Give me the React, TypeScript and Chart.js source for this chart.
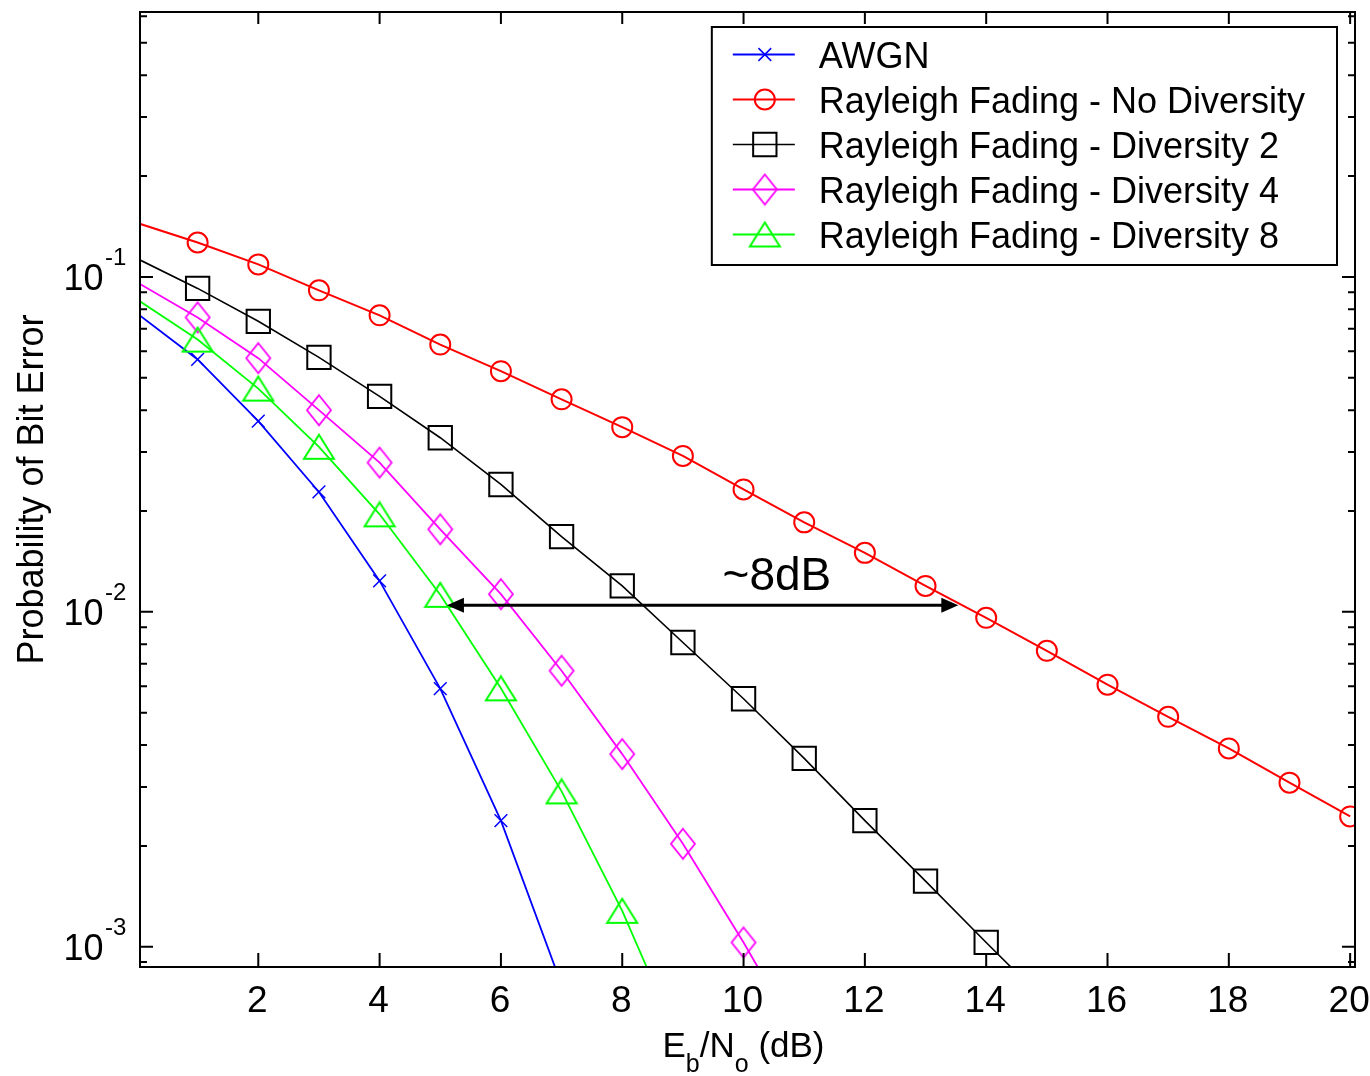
import { useEffect, useRef } from "react";
import { Chart, registerables } from "chart.js";
import { drawPoint } from "chart.js/helpers";

Chart.register(...registerables);

// Eb/No grid in dB
const ebNo = [0, 1, 2, 3, 4, 5, 6, 7, 8, 9, 10, 11, 12, 13, 14, 15, 16, 17, 18, 19, 20];

// Bit error probability per scheme (one value per Eb/No step, starting at 0 dB)
const awgnBer = [0.0778, 0.0567, 0.0371, 0.0228, 0.01237, 0.0059, 0.00238, 0.00077];
const rayleighNoDiv = [
  0.145, 0.1267, 0.109, 0.0912, 0.0768, 0.0628, 0.0523, 0.0431, 0.0356, 0.0292, 0.0232,
  0.0185, 0.015, 0.01195, 0.0096, 0.00765, 0.00606, 0.00486, 0.00391, 0.00309, 0.00245,
];
const rayleighDiv2 = [
  0.1135, 0.0924, 0.0737, 0.0575, 0.044, 0.0331, 0.024, 0.01677, 0.01195, 0.0081, 0.0055,
  0.00365, 0.00238, 0.00157, 0.00103, 0.00068,
];
const rayleighDiv4 = [
  0.0964, 0.0757, 0.0572, 0.04, 0.0279, 0.01764, 0.01129, 0.00667, 0.00376, 0.00203, 0.00103,
  0.0005,
];
const rayleighDiv8 = [0.0857, 0.065, 0.0464, 0.0311, 0.01955, 0.01124, 0.00591, 0.00291, 0.00128, 0.00049];

const seriesLabels = [
  "AWGN",
  "Rayleigh Fading - No Diversity",
  "Rayleigh Fading - Diversity 2",
  "Rayleigh Fading - Diversity 4",
  "Rayleigh Fading - Diversity 8",
];

// Axis ticks
const xTickValues = [2, 4, 6, 8, 10, 12, 14, 16, 18, 20];
const yDecadeValues = [1e-1, 1e-2, 1e-3];
const yDecadeExponents = ["-1", "-2", "-3"];

// Axis limits
const X_MIN = 0.05;
const X_MAX = 20.08;
const Y_MIN = 0.00087;
const Y_MAX = 0.618;

// Diversity gain annotation (data coordinates)
const gainArrowFrom = 5.11;
const gainArrowTo = 13.54;
const gainArrowLevel = 0.01047;
const gainText = "~8dB";
const gainTextX = 10.55;
const gainTextY = 0.01164;

const FONT = '"Liberation Sans", Arial, Helvetica, sans-serif';

function outlineMarker(w: number, h: number, color: string, lineWidth: number, shape: "triangle" | "diamond") {
  const pad = 2;
  const c = document.createElement("canvas");
  c.width = w + pad * 2;
  c.height = h + pad * 2;
  const g = c.getContext("2d")!;
  g.strokeStyle = color;
  g.lineWidth = lineWidth;
  g.beginPath();
  if (shape === "triangle") {
    g.moveTo(pad + w / 2, pad);
    g.lineTo(pad + w, pad + h);
    g.lineTo(pad, pad + h);
  } else {
    g.moveTo(pad + w / 2, pad);
    g.lineTo(pad + w, pad + h / 2);
    g.lineTo(pad + w / 2, pad + h);
    g.lineTo(pad, pad + h / 2);
  }
  g.closePath();
  g.stroke();
  return c;
}

export default function App() {
  const canvasRef = useRef<HTMLCanvasElement | null>(null);

  useEffect(() => {
    const canvas = canvasRef.current;
    if (!canvas) return;

    const toPoints = (vals: number[]) => vals.map((v, i) => ({ x: ebNo[i], y: v }));

    const styles = [
      { color: "#0000ff", width: 1.8, pointStyle: "crossRot" as any, radius: 9, pointWidth: 1.5 },
      { color: "#ff0000", width: 2, pointStyle: "circle" as any, radius: 10, pointWidth: 2 },
      { color: "#000000", width: 1.6, pointStyle: "rect" as any, radius: 16.5, pointWidth: 2 },
      { color: "#ff00ff", width: 1.8, pointStyle: outlineMarker(24, 30, "#ff00ff", 1.8, "diamond") as any, radius: 12, pointWidth: 1.8 },
      { color: "#00ff00", width: 1.8, pointStyle: outlineMarker(30, 24, "#00ff00", 2, "triangle") as any, radius: 12, pointWidth: 2 },
    ];
    const seriesValues = [awgnBer, rayleighNoDiv, rayleighDiv2, rayleighDiv4, rayleighDiv8];

    const radiusFor = (r: number) => (ctx: any) => {
      const raw = ctx.raw;
      if (!raw) return r;
      return raw.x < X_MIN || raw.x > X_MAX || raw.y < Y_MIN || raw.y > Y_MAX ? 0 : r;
    };

    const datasets = seriesValues.map((vals, i) => ({
      label: seriesLabels[i],
      data: toPoints(vals),
      borderColor: styles[i].color,
      backgroundColor: "rgba(0,0,0,0)",
      borderWidth: styles[i].width,
      pointStyle: styles[i].pointStyle,
      pointRadius: radiusFor(styles[i].radius),
      pointHoverRadius: radiusFor(styles[i].radius),
      pointBorderColor: styles[i].color,
      pointBackgroundColor: "rgba(0,0,0,0)",
      pointBorderWidth: styles[i].pointWidth,
      tension: 0,
      fill: false,
      order: 5 - i,
    }));

    const axesPlugin = {
      id: "matlabAxes",
      afterDraw(chart: any) {
        const { ctx, chartArea } = chart;
        const { left, right, top, bottom } = chartArea;
        const xs = chart.scales.x;
        const ys = chart.scales.y;
        ctx.save();

        // gain annotation
        const ay = ys.getPixelForValue(gainArrowLevel);
        const ax1 = xs.getPixelForValue(gainArrowFrom);
        const ax2 = xs.getPixelForValue(gainArrowTo);
        const head = 17;
        const hw = 7.5;
        ctx.strokeStyle = "#000";
        ctx.fillStyle = "#000";
        ctx.lineWidth = 3;
        ctx.beginPath();
        ctx.moveTo(ax1 + head - 2, ay);
        ctx.lineTo(ax2 - head + 2, ay);
        ctx.stroke();
        ctx.beginPath();
        ctx.moveTo(ax1, ay);
        ctx.lineTo(ax1 + head, ay - hw);
        ctx.lineTo(ax1 + head, ay + hw);
        ctx.closePath();
        ctx.fill();
        ctx.beginPath();
        ctx.moveTo(ax2, ay);
        ctx.lineTo(ax2 - head, ay - hw);
        ctx.lineTo(ax2 - head, ay + hw);
        ctx.closePath();
        ctx.fill();
        ctx.font = `46px ${FONT}`;
        ctx.textAlign = "center";
        ctx.textBaseline = "alphabetic";
        ctx.fillText(gainText, xs.getPixelForValue(gainTextX), ys.getPixelForValue(gainTextY));

        // axes box
        ctx.strokeStyle = "#000";
        ctx.lineWidth = 2;
        ctx.strokeRect(left, top, right - left, bottom - top);

        // x ticks (inward, bottom and top)
        ctx.beginPath();
        xTickValues.forEach((v) => {
          const px = xs.getPixelForValue(v);
          ctx.moveTo(px, bottom);
          ctx.lineTo(px, bottom - 14);
          ctx.moveTo(px, top);
          ctx.lineTo(px, top + 12);
        });
        // y ticks: decades long, intermediate values short
        for (let e = -4; e <= 0; e++) {
          for (let m = 1; m <= 9; m++) {
            const v = m * Math.pow(10, e);
            if (v < Y_MIN || v > Y_MAX) continue;
            const py = ys.getPixelForValue(v);
            const len = m === 1 ? 13 : 7;
            ctx.moveTo(left, py);
            ctx.lineTo(left + len, py);
            ctx.moveTo(right, py);
            ctx.lineTo(right - len, py);
          }
        }
        ctx.stroke();

        // x tick labels
        ctx.fillStyle = "#000";
        ctx.font = `37px ${FONT}`;
        ctx.textAlign = "center";
        ctx.textBaseline = "alphabetic";
        xTickValues.forEach((v) => {
          ctx.fillText(String(v), xs.getPixelForValue(v) - 1, 1012);
        });

        // y tick labels as 10 with raised exponent
        yDecadeValues.forEach((v, i) => {
          const py = ys.getPixelForValue(v);
          ctx.font = `36px ${FONT}`;
          ctx.textAlign = "right";
          ctx.fillText("10", left - 36.5, py + 13);
          ctx.font = `24px ${FONT}`;
          ctx.textAlign = "left";
          ctx.fillText(yDecadeExponents[i], left - 35, py - 12);
        });

        // x axis title with subscripts
        const parts = [
          { t: "E", size: 35, dy: 0 },
          { t: "b", size: 25, dy: 15 },
          { t: "/N", size: 35, dy: 0 },
          { t: "o", size: 25, dy: 15 },
          { t: " (dB)", size: 35, dy: 0 },
        ];
        let total = 0;
        parts.forEach((p) => {
          ctx.font = `${p.size}px ${FONT}`;
          total += ctx.measureText(p.t).width;
        });
        let cx = (left + right) / 2 - 4 - total / 2;
        ctx.textAlign = "left";
        parts.forEach((p) => {
          ctx.font = `${p.size}px ${FONT}`;
          ctx.fillText(p.t, cx, 1057 + p.dy);
          cx += ctx.measureText(p.t).width;
        });

        // y axis title
        ctx.save();
        ctx.translate(43, (top + bottom) / 2);
        ctx.rotate(-Math.PI / 2);
        ctx.font = `36px ${FONT}`;
        ctx.textAlign = "center";
        ctx.fillText("Probability of Bit Error", 0, 0);
        ctx.restore();

        // legend box (top right, inside the axes)
        ctx.font = `36px ${FONT}`;
        const maxW = Math.max(...seriesLabels.map((s) => ctx.measureText(s).width));
        const boxRight = right - 18;
        const boxTop = top + 15;
        const boxLeft = boxRight - 32 - maxW - 107;
        const rowH = 45;
        const firstRow = boxTop + 27.5;
        const boxBottom = firstRow + rowH * (seriesLabels.length - 1) + 30.5;
        ctx.fillStyle = "#fff";
        ctx.fillRect(boxLeft, boxTop, boxRight - boxLeft, boxBottom - boxTop);
        ctx.strokeStyle = "#000";
        ctx.lineWidth = 2;
        ctx.strokeRect(boxLeft, boxTop, boxRight - boxLeft, boxBottom - boxTop);

        seriesLabels.forEach((label, i) => {
          const ry = firstRow + i * rowH;
          const st = styles[i];
          ctx.strokeStyle = st.color;
          ctx.lineWidth = st.width;
          ctx.beginPath();
          ctx.moveTo(boxLeft + 21, ry);
          ctx.lineTo(boxLeft + 83, ry);
          ctx.stroke();
          ctx.fillStyle = "rgba(0,0,0,0)";
          ctx.lineWidth = st.pointWidth;
          drawPoint(ctx, { pointStyle: st.pointStyle, radius: st.radius, rotation: 0, borderWidth: st.pointWidth } as any, boxLeft + 53, ry);
          ctx.fillStyle = "#000";
          ctx.font = `36px ${FONT}`;
          ctx.textAlign = "left";
          ctx.fillText(label, boxLeft + 107, ry + 13);
        });

        ctx.restore();
      },
    };

    const chart = new Chart(canvas, {
      type: "line",
      data: { datasets: datasets as any },
      options: {
        responsive: false,
        animation: false,
        devicePixelRatio: 1,
        events: [],
        layout: { padding: { left: 0, right: 15, top: 10, bottom: 0 } },
        plugins: { legend: { display: false }, tooltip: { enabled: false } },
        scales: {
          x: {
            type: "linear",
            min: X_MIN,
            max: X_MAX,
            grid: { display: false },
            border: { display: false },
            ticks: { display: false },
            afterFit: (s: any) => {
              s.height = 109;
            },
          },
          y: {
            type: "logarithmic",
            min: Y_MIN,
            max: Y_MAX,
            grid: { display: false },
            border: { display: false },
            ticks: { display: false },
            afterFit: (s: any) => {
              s.width = 140;
            },
          },
        },
      },
      plugins: [axesPlugin],
    });

    return () => chart.destroy();
  }, []);

  return (
    <div style={{ position: "absolute", left: 0, top: 0, width: 1370, height: 1076, background: "#fff" }}>
      <canvas ref={canvasRef} width={1370} height={1076} style={{ display: "block" }} />
    </div>
  );
}
